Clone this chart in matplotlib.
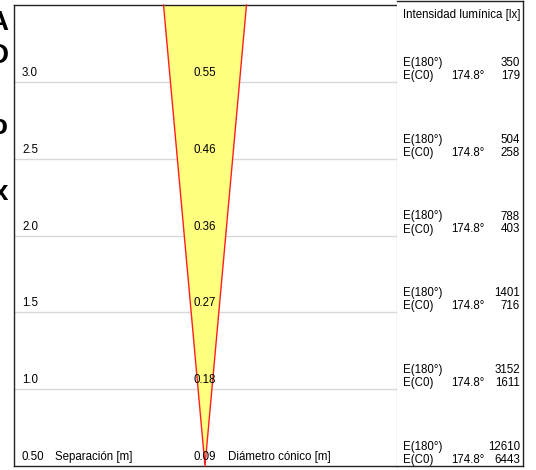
import numpy as np
import matplotlib.pyplot as plt

plt.rcParams['font.family'] = ['Liberation Sans', 'DejaVu Sans']

# ========== DATA ==========
distances = [3.0, 2.5, 2.0, 1.5, 1.0, 0.50]
dist_labels = ["3.0", "2.5", "2.0", "1.5", "1.0", "0.50"]
diameters = ["0.55", "0.46", "0.36", "0.27", "0.18", "0.09"]
e_180 = [350, 504, 788, 1401, 3152, 12610]
e_c0 = [179, 258, 403, 716, 1611, 6443]
c0_angle = "174.8°"
cone_slope = 0.09          # half width per metre of the drawn cone
y_min, y_max = 0.5, 3.5

W, H = 536, 470
fig = plt.figure(figsize=(W / 100, H / 100), dpi=100)

def fx(px):
    return px / W

def fy(py):
    return 1 - py / H

# ========== PLOT AREA ==========
left, right, top, bottom = 14, 397, 5, 466
ax = fig.add_axes([fx(left), fy(bottom), fx(right - left), fy(top) - fy(bottom)])
scale = (bottom - top) / (y_max - y_min)          # px per metre
xc = 205
ax.set_xlim((left - xc) / scale, (right - xc) / scale)
ax.set_ylim(y_min, y_max)
ax.set_xticks([])
ax.set_yticks([])
for s in ax.spines.values():
    s.set_color('#222222')
    s.set_linewidth(1.0)
ax.spines['right'].set_color('#c8c8c8')

for d in distances[:-1]:
    ax.axhline(d, color='#d8d8d8', lw=1.0, zorder=1)

hw = cone_slope * (y_max - y_min)
ax.fill([0, -hw, hw], [y_min, y_max, y_max], color='#ffff80', zorder=2, lw=0)
ax.plot([-hw, 0, hw], [y_max, y_min, y_max], color='#ff2020', lw=1.0, zorder=3, clip_on=False)

fs = 8.3
x_lab = (22 - xc) / scale
off = 3 / scale
for d, lab, dia in zip(distances, dist_labels, diameters):
    ax.text(x_lab, d + off, lab, fontsize=fs, va='bottom', ha='left', zorder=4)
    ax.text(0, d + off, dia, fontsize=fs, va='bottom', ha='center', zorder=4)
ax.text((55 - xc) / scale, y_min + off, "Separación [m]", fontsize=fs, va='bottom', ha='left')
ax.text((228 - xc) / scale, y_min + off, "Diámetro cónico [m]", fontsize=fs, va='bottom', ha='left')

# ========== RIGHT COLUMN ==========
rtop = 1
ax2 = fig.add_axes([fx(right), fy(bottom), fx(523 - right), fy(rtop) - fy(bottom)])
ax2.set_xlim(right, 523)
ax2.set_ylim(bottom, rtop)
ax2.set_xticks([])
ax2.set_yticks([])
for s in ax2.spines.values():
    s.set_color('#222222')
    s.set_linewidth(1.0)
ax2.spines['left'].set_visible(False)

ax2.text(403, 18, "Intensidad lumínica [lx]", fontsize=fs, ha='left', va='baseline')
for d, a, b in zip(distances, e_180, e_c0):
    yb = bottom - (d - y_min) * scale
    ax2.text(403, yb - 16, "E(180°)", fontsize=fs, ha='left', va='baseline')
    ax2.text(520, yb - 16, str(a), fontsize=fs, ha='right', va='baseline')
    ax2.text(403, yb - 3, "E(C0)", fontsize=fs, ha='left', va='baseline')
    ax2.text(451, yb - 3, c0_angle, fontsize=fs, ha='left', va='baseline')
    ax2.text(520, yb - 3, str(b), fontsize=fs, ha='right', va='baseline')

# cropped heading letters at the left edge
for ch, yb in [("A", 30), ("D", 63), ("o", 134), ("x", 200)]:
    fig.text(fx(8), fy(yb), ch, fontsize=20, fontweight='bold', ha='right', va='baseline')

fig.savefig("out.png", dpi=100)
